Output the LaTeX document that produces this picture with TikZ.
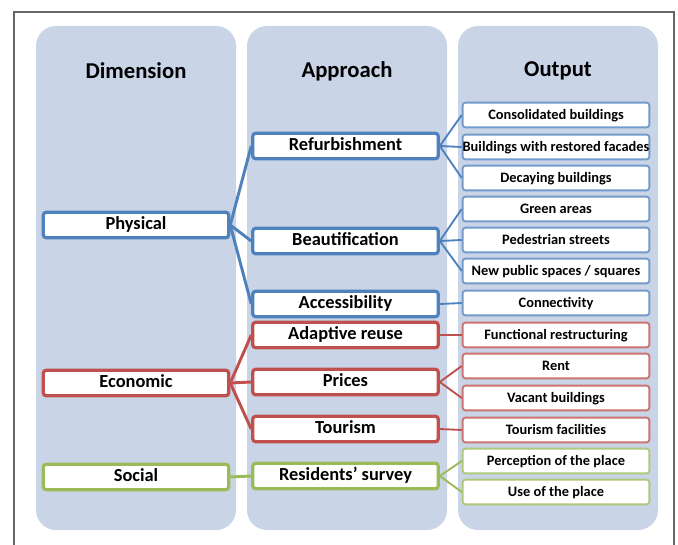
\documentclass[tikz,border=0pt]{standalone}
\usepackage{fontspec}
\setmainfont{Carlito}

\definecolor{panelblue}{RGB}{201,212,231}
\definecolor{physblue}{RGB}{79,129,189}
\definecolor{econred}{RGB}{192,80,77}
\definecolor{socgreen}{RGB}{155,187,89}

\begin{document}
\begin{tikzpicture}[x=0.75pt,y=-0.75pt,
    panel/.style={fill=panelblue,rounded corners=15pt},
    head/.style={font=\bfseries\fontsize{17}{20}\selectfont},
    mainbox/.style={draw,fill=white,line width=2.4pt,rounded corners=2pt,
        minimum width=139pt,minimum height=19pt,inner sep=0pt,
        text height=0.72em,text depth=-0.06em,
        font=\bfseries\fontsize{13.8}{16}\selectfont},
    outbox/.style={draw,fill=white,line width=1.4pt,rounded corners=2pt,
        minimum width=140pt,minimum height=18.5pt,inner sep=0pt,
        text height=0.7em,text depth=-0.04em,
        font=\bfseries\fontsize{10.8}{12}\selectfont},
    link/.style={line width=2.2pt},
    sublink/.style={line width=1.4pt}]
    \useasboundingbox (0,0) rectangle (678,545);
    \draw[gray!80!black,line width=0.8pt] (14,548) -- (14,12) -- (674,12) -- (674,548);

    % the three columns
    \fill[panel] (36,26) rectangle (236,530);
    \fill[panel] (247,26) rectangle (447,530);
    \fill[panel] (458,26) rectangle (658,530);
    \node[head] (hdim) at (136,71) {Dimension};
    \node[head] (happ) at (347,71) {Approach};
    \node[head] (hout) at (558,71) {Output};

    % dimension
    \node[mainbox,draw=physblue] (phys) at (136,225) {Physical};
    \node[mainbox,draw=econred] (econ) at (136,383) {Economic};
    \node[mainbox,draw=socgreen] (soc) at (136,477) {Social};

    % approach
    \node[mainbox,draw=physblue] (refurb) at (345.5,146) {Refurbishment};
    \node[mainbox,draw=physblue] (beaut) at (345.5,241) {Beautification};
    \node[mainbox,draw=physblue] (access) at (345.5,304) {Accessibility};
    \node[mainbox,draw=econred] (reuse) at (345.5,335) {Adaptive reuse};
    \node[mainbox,draw=econred] (prices) at (345.5,382) {Prices};
    \node[mainbox,draw=econred] (tour) at (345.5,429) {Tourism};
    \node[mainbox,draw=socgreen] (survey) at (345.5,476) {Residents’ survey};

    % output
    \node[outbox,draw=physblue!80] (o1) at (556,115) {Consolidated buildings};
    \node[outbox,draw=physblue!80] (o2) at (556,147) {Buildings with restored facades};
    \node[outbox,draw=physblue!80] (o3) at (556,178) {Decaying buildings};
    \node[outbox,draw=physblue!80] (o4) at (556,209) {Green areas};
    \node[outbox,draw=physblue!80] (o5) at (556,240) {Pedestrian streets};
    \node[outbox,draw=physblue!80] (o6) at (556,271) {New public spaces / squares};
    \node[outbox,draw=physblue!80] (o7) at (556,303) {Connectivity};
    \node[outbox,draw=econred!80] (o8) at (556,335) {Functional restructuring};
    \node[outbox,draw=econred!80] (o9) at (556,366) {Rent};
    \node[outbox,draw=econred!80] (o10) at (556,398) {Vacant buildings};
    \node[outbox,draw=econred!80] (o11) at (556,430) {Tourism facilities};
    \node[outbox,draw=socgreen!80] (o12) at (556,461) {Perception of the place};
    \node[outbox,draw=socgreen!80] (o13) at (556,492) {Use of the place};

    % dimension to approach
    \path[link,draw=physblue] (phys.east) edge (refurb.west)
        (phys.east) edge (beaut.west) (phys.east) edge (access.west);
    \path[link,draw=econred] (econ.east) edge (reuse.west)
        (econ.east) edge (prices.west) (econ.east) edge (tour.west);
    \path[link,draw=socgreen] (soc.east) edge (survey.west);

    % approach to output
    \path[sublink,draw=physblue] (refurb.east) edge (o1.west)
        (refurb.east) edge (o2.west) (refurb.east) edge (o3.west);
    \path[sublink,draw=physblue] (beaut.east) edge (o4.west)
        (beaut.east) edge (o5.west) (beaut.east) edge (o6.west);
    \path[sublink,draw=physblue] (access.east) edge (o7.west);
    \path[sublink,draw=econred] (reuse.east) edge (o8.west);
    \path[sublink,draw=econred] (prices.east) edge (o9.west)
        (prices.east) edge (o10.west);
    \path[sublink,draw=econred] (tour.east) edge (o11.west);
    \path[sublink,draw=socgreen] (survey.east) edge (o12.west)
        (survey.east) edge (o13.west);
\end{tikzpicture}
\end{document}
